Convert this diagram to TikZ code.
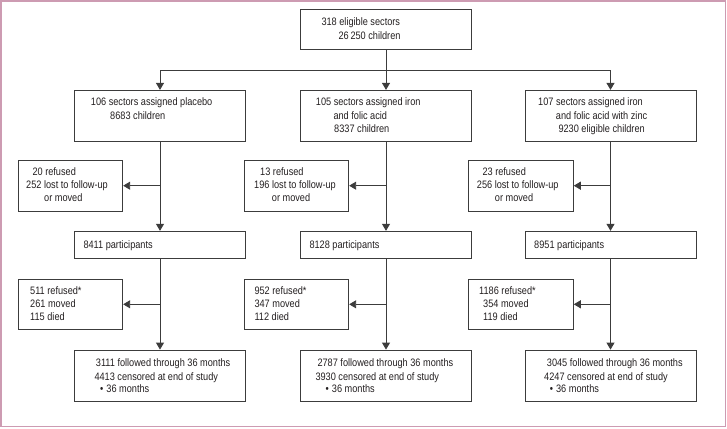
\documentclass[tikz,border=0pt]{standalone}
\usepackage{fontspec}
\setmainfont[FakeStretch=0.85]{Liberation Sans}
\usetikzlibrary{arrows.meta}
\definecolor{ln}{RGB}{60,60,60}
\definecolor{tx}{RGB}{35,31,32}
\definecolor{framec}{RGB}{205,155,178}
\begin{document}
\begin{tikzpicture}[x=1pt,y=-1pt,
 box/.style={draw=ln,line width=0.9pt,inner sep=0pt,minimum width=171pt,rectangle},
 sbox/.style={draw=ln,line width=0.9pt,inner sep=0pt,minimum width=104.4pt,minimum height=50.7pt,rectangle},
 txt/.style={anchor=mid west,inner sep=0pt,yshift=-1pt,text=tx,font=\fontsize{10.8}{13}\selectfont},
 arr/.style={draw=ln,line width=0.9pt,-{Triangle[width=8pt,length=7pt]}},
 con/.style={draw=ln,line width=0.9pt}]
\useasboundingbox (0,0) rectangle (727,428);
\draw[framec,line width=1.2pt] (1,1) rectangle (725.8,426.4);

% boxes
\node[box,minimum height=40.3pt] (top) at (386,29.2) {};
\node[box,minimum height=50.7pt] (a1) at (160,115.7) {};
\node[box,minimum height=50.7pt] (a2) at (386,115.7) {};
\node[box,minimum height=50.7pt] (a3) at (610.5,115.7) {};
\node[sbox] (s1) at (70.5,185.7) {};
\node[sbox] (s2) at (296.5,185.7) {};
\node[sbox] (s3) at (521.1,185.7) {};
\node[box,minimum height=27pt] (b1) at (160,244.8) {};
\node[box,minimum height=27pt] (b2) at (386,244.8) {};
\node[box,minimum height=27pt] (b3) at (610.5,244.8) {};
\node[sbox] (r1) at (70.5,304.3) {};
\node[sbox] (r2) at (296.5,304.3) {};
\node[sbox] (r3) at (521.1,304.3) {};
\node[box,minimum height=51.3pt] (c1) at (160,375.7) {};
\node[box,minimum height=51.3pt] (c2) at (386,375.7) {};
\node[box,minimum height=51.3pt] (c3) at (610.5,375.7) {};

% texts
\node[txt] (t01) at (321.3,22) {318 eligible sectors};
\node[txt] (t02) at (338.3,35.7) {26\,250 children};

\node[txt] (t11) at (90.7,101.7) {106 sectors assigned placebo};
\node[txt] (t12) at (110,115.7) {8683 children};
\node[txt] (t21) at (315.7,101.7) {105 sectors assigned iron};
\node[txt] (t22) at (333.3,115.7) {and folic acid};
\node[txt] (t23) at (334,129.3) {8337 children};
\node[txt] (t31) at (538,101.7) {107 sectors assigned iron};
\node[txt] (t32) at (555.7,115.7) {and folic acid with zinc};
\node[txt] (t33) at (558.3,129.3) {9230 eligible children};

\node[txt] (u11) at (32.3,171.7) {20 refused};
\node[txt] (u12) at (26,185) {252 lost to follow-up};
\node[txt] (u13) at (44,197.7) {or moved};
\node[txt] (u21) at (260,171.7) {13 refused};
\node[txt] (u22) at (254,185) {196 lost to follow-up};
\node[txt] (u23) at (271.7,197.7) {or moved};
\node[txt] (u31) at (482.3,171.7) {23 refused};
\node[txt] (u32) at (476.7,185) {256 lost to follow-up};
\node[txt] (u33) at (494.7,197.7) {or moved};

\node[txt] (p1) at (83.3,244.7) {8411 participants};
\node[txt] (p2) at (309.3,244.7) {8128 participants};
\node[txt] (p3) at (534,244.7) {8951 participants};

\node[txt] (v11) at (30,290.7) {511 refused*};
\node[txt] (v12) at (30,304) {261 moved};
\node[txt] (v13) at (30,317.3) {115 died};
\node[txt] (v21) at (254.3,290.7) {952 refused*};
\node[txt] (v22) at (254.3,304) {347 moved};
\node[txt] (v23) at (254.3,317.3) {112 died};
\node[txt] (v31) at (479,290.7) {1186 refused*};
\node[txt] (v32) at (483,304) {354 moved};
\node[txt] (v33) at (483,317.3) {119 died};

\node[txt] (w11) at (95.7,363.3) {3111 followed through 36 months};
\node[txt] (w12) at (94.3,376.7) {4413 censored at end of study};
\node[txt] (w13) at (100,389) {\textbullet\hspace{3pt}36 months};
\node[txt] (w21) at (317.3,363.3) {2787 followed through 36 months};
\node[txt] (w22) at (315.3,376.7) {3930 censored at end of study};
\node[txt] (w23) at (325.5,389) {\textbullet\hspace{3pt}36 months};
\node[txt] (w31) at (546.7,363.3) {3045 followed through 36 months};
\node[txt] (w32) at (544,376.7) {4247 censored at end of study};
\node[txt] (w33) at (549.7,389) {\textbullet\hspace{3pt}36 months};

% connectors
\coordinate (j) at (386,70);
\draw[arr] (top.south) -- (a2.north);
\draw[arr] (j) -| (a1.north);
\draw[arr] (j) -| (a3.north);
\draw[arr] (a1.south) -- (b1.north);
\draw[arr] (a2.south) -- (b2.north);
\draw[arr] (a3.south) -- (b3.north);
\draw[arr] (a1.south |- s1.east) -- (s1.east);
\draw[arr] (a2.south |- s2.east) -- (s2.east);
\draw[arr] (a3.south |- s3.east) -- (s3.east);
\draw[arr] (b1.south) -- (c1.north);
\draw[arr] (b2.south) -- (c2.north);
\draw[arr] (b3.south) -- (c3.north);
\draw[arr] (b1.south |- r1.east) -- (r1.east);
\draw[arr] (b2.south |- r2.east) -- (r2.east);
\draw[arr] (b3.south |- r3.east) -- (r3.east);
\end{tikzpicture}
\end{document}
